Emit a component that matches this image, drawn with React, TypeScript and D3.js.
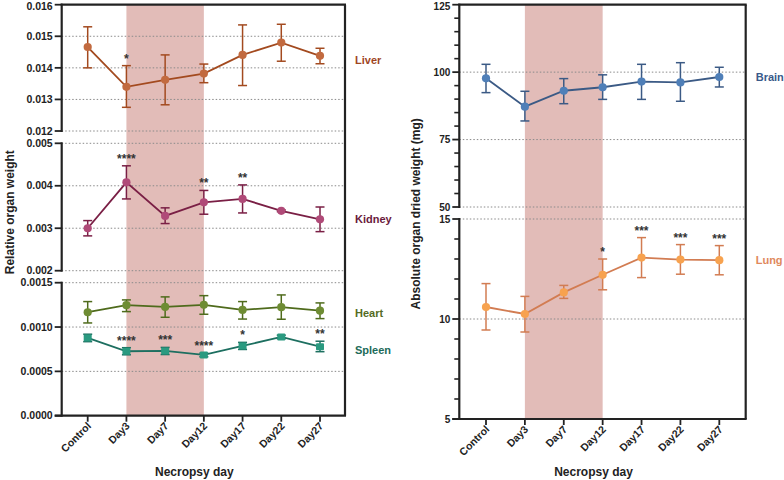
import React from "react";
import * as d3 from "d3";

const categories = ["Control", "Day3", "Day7", "Day12", "Day17", "Day22", "Day27"];

// Left panel: relative organ weight
const liverMean = [0.01466, 0.0134, 0.01362, 0.01382, 0.01441, 0.0148, 0.01438];
const liverLow = [0.014, 0.01275, 0.01283, 0.01353, 0.01344, 0.01421, 0.01413];
const liverHigh = [0.0153, 0.01407, 0.01441, 0.01412, 0.01536, 0.01538, 0.01462];
const liverStars = ["", "*", "", "", "", "", ""];

const kidneyMean = [0.003, 0.00408, 0.00329, 0.00361, 0.00369, 0.00341, 0.00321];
const kidneyLow = [0.00282, 0.00369, 0.00311, 0.00333, 0.00336, 0.00339, 0.00292];
const kidneyHigh = [0.00318, 0.00447, 0.00348, 0.00389, 0.00402, 0.00343, 0.0035];
const kidneyStars = ["", "****", "", "**", "**", "", ""];

const heartMean = [0.001167, 0.001246, 0.001227, 0.00125, 0.001193, 0.001224, 0.001185];
const heartLow = [0.001046, 0.001174, 0.00111, 0.001144, 0.00109, 0.001088, 0.001095];
const heartHigh = [0.001287, 0.001306, 0.00134, 0.001354, 0.001287, 0.001362, 0.001272];

const spleenMean = [0.000877, 0.000727, 0.00073, 0.000685, 0.000787, 0.000888, 0.000779];
const spleenLow = [0.000835, 0.000687, 0.00069, 0.000665, 0.000747, 0.000868, 0.000722];
const spleenHigh = [0.000919, 0.000767, 0.00077, 0.000705, 0.000827, 0.000908, 0.00084];
const spleenStars = ["", "****", "***", "****", "*", "", "**"];

const liverTicks = [0.012, 0.013, 0.014, 0.015, 0.016];
const kidneyTicks = [0.002, 0.003, 0.004, 0.005];
const hsTicks = [0, 0.0005, 0.001, 0.0015];

// Right panel: absolute organ dried weight (mg)
const brainMean = [97.7, 87.2, 93.1, 94.4, 96.5, 96.2, 98.2];
const brainLow = [92.4, 81.9, 88.3, 89.9, 89.9, 89.2, 94.5];
const brainHigh = [102.9, 92.9, 97.6, 99.0, 102.9, 103.5, 101.8];
const brainStars = ["", "", "", "", "", "", ""];

const lungMean = [10.6, 10.25, 11.33, 12.21, 13.07, 12.97, 12.94];
const lungLow = [9.45, 9.35, 11.03, 11.46, 12.07, 12.24, 12.21];
const lungHigh = [11.77, 11.13, 11.68, 13.0, 14.07, 13.72, 13.67];
const lungStars = ["", "", "", "*", "***", "***", "***"];

const brainTicks = [50, 75, 100, 125];
const lungTicks = [5, 10, 15];

const FONT = "'Liberation Sans', Arial, Helvetica, sans-serif";
const AXIS = "#222";
const GRID = "#8a8a8a";
const SHADE = "#e2bcb8";

type Series = {
  name: string;
  mean: number[];
  low: number[];
  high: number[];
  stars?: string[];
  y: d3.ScaleLinear<number, number>;
  line: string;
  marker: string;
  label: string;
  labelDy: number;
  square?: boolean;
};

function SeriesMarks({ s, x }: { s: Series; x: d3.ScalePoint<string> }) {
  const pts = categories.map((c, i) => [x(c) as number, s.y(s.mean[i])] as [number, number]);
  const path = d3.line()(pts) || "";
  const cap = 4.5;
  return (
    <g>
      <path d={path} fill="none" stroke={s.line} strokeWidth={1.8} />
      {categories.map((c, i) => {
        const cx = x(c) as number;
        const yl = s.y(s.low[i]);
        const yh = s.y(s.high[i]);
        return (
          <g key={c} stroke={s.line} strokeWidth={1.5}>
            <line x1={cx} x2={cx} y1={yl} y2={yh} />
            <line x1={cx - cap} x2={cx + cap} y1={yl} y2={yl} />
            <line x1={cx - cap} x2={cx + cap} y1={yh} y2={yh} />
          </g>
        );
      })}
      {categories.map((c, i) => {
        const cx = x(c) as number;
        const cy = s.y(s.mean[i]);
        return s.square ? (
          <rect key={c} x={cx - 4} y={cy - 3.5} width={8} height={7} rx={1} fill={s.marker} />
        ) : (
          <circle key={c} cx={cx} cy={cy} r={4.1} fill={s.marker} />
        );
      })}
      {s.stars &&
        categories.map((c, i) =>
          s.stars![i] ? (
            <text
              key={c}
              x={x(c) as number}
              y={s.y(s.high[i]) - 3}
              textAnchor="middle"
              fontSize={12}
              fontWeight="bold"
              fill="#333"
              fontFamily={FONT}
            >
              {s.stars![i]}
            </text>
          ) : null
        )}
    </g>
  );
}

type Segment = {
  y: d3.ScaleLinear<number, number>;
  ticks: number[];
  fmt: (v: number) => string;
  grid: number[];
  minor?: number[];
};

function Panel({
  x0,
  x1,
  top,
  bottom,
  x,
  segments,
  series,
  shadeFrom,
  shadeTo,
  title,
  titleOffset,
  tickFont,
}: {
  x0: number;
  x1: number;
  top: number;
  bottom: number;
  x: d3.ScalePoint<string>;
  segments: Segment[];
  series: Series[];
  shadeFrom: string;
  shadeTo: string;
  title: string;
  titleOffset: number;
  tickFont: number;
}) {
  const cx = (x0 + x1) / 2;
  const titleY = (top + bottom) / 2 + 2;
  return (
    <g>
      <rect
        x={x(shadeFrom) as number}
        y={top}
        width={(x(shadeTo) as number) - (x(shadeFrom) as number)}
        height={bottom - top}
        fill={SHADE}
      />
      {segments.map((seg, si) =>
        seg.grid.map((g) => (
          <line
            key={`g${si}-${g}`}
            x1={x0}
            x2={x1}
            y1={seg.y(g)}
            y2={seg.y(g)}
            stroke={GRID}
            strokeWidth={1}
            strokeDasharray="1.5,2"
          />
        ))
      )}
      {segments.map((seg, si) => {
        const [ya, yb] = seg.y.range();
        return (
          <g key={`a${si}`}>
            <line x1={x0} x2={x0} y1={ya + 1} y2={yb - 1} stroke={AXIS} strokeWidth={2.2} />
            {seg.minor &&
              seg.minor.map((m) => (
                <line key={`m${m}`} x1={x0 - 5} x2={x0} y1={seg.y(m)} y2={seg.y(m)} stroke={AXIS} strokeWidth={1.6} />
              ))}
            {seg.ticks.map((t) => (
              <g key={`t${t}`}>
                <line x1={x0 - 7} x2={x0} y1={seg.y(t)} y2={seg.y(t)} stroke={AXIS} strokeWidth={1.8} />
                <text
                  x={x0 - 9}
                  y={Math.max(seg.y(t), 6)}
                  dy="0.35em"
                  textAnchor="end"
                  fontSize={tickFont}
                  fontWeight="bold"
                  fill="#222"
                  fontFamily={FONT}
                >
                  {seg.fmt(t)}
                </text>
              </g>
            ))}
          </g>
        );
      })}
      <line x1={x0 - 1} x2={x1 + 1} y1={top} y2={top} stroke={AXIS} strokeWidth={2.2} />
      <line x1={x1} x2={x1} y1={top} y2={bottom} stroke={AXIS} strokeWidth={2.2} />
      <line x1={x0 - 7} x2={x1 + 1} y1={bottom} y2={bottom} stroke={AXIS} strokeWidth={2.2} />
      {categories.map((c) => {
        const px = x(c) as number;
        return (
          <g key={c}>
            <line x1={px} x2={px} y1={bottom} y2={bottom + 6} stroke={AXIS} strokeWidth={1.8} />
            <text
              transform={`translate(${px + 4},${bottom + 11}) rotate(-45)`}
              textAnchor="end"
              fontSize={10.5}
              fontWeight="bold"
              fill="#222"
              fontFamily={FONT}
            >
              {c}
            </text>
          </g>
        );
      })}
      {series.map((s) => (
        <g key={s.name}>
          <SeriesMarks s={s} x={x} />
          <text
            x={x1 + 10}
            y={s.y(s.mean[s.mean.length - 1]) + s.labelDy}
            dy="0.35em"
            fontSize={11}
            fontWeight="bold"
            fill={s.label}
            fontFamily={FONT}
          >
            {s.name}
          </text>
        </g>
      ))}
      <text
        x={cx - 9}
        y={476}
        textAnchor="middle"
        fontSize={12}
        fontWeight="bold"
        fill="#222"
        fontFamily={FONT}
      >
        Necropsy day
      </text>
      <text
        transform={`translate(${x0 - titleOffset},${titleY}) rotate(-90)`}
        textAnchor="middle"
        fontSize={12}
        fontWeight="bold"
        fill="#222"
        fontFamily={FONT}
      >
        {title}
      </text>
    </g>
  );
}

export default function App() {
  const lx0 = 61.7;
  const lx1 = 345;
  const xL = d3.scalePoint<string>().domain(categories).range([87.7, 320]);
  const yLiver = d3.scaleLinear().domain([0.012, 0.016]).range([131, 4.7]);
  const yKidney = d3.scaleLinear().domain([0.002, 0.005]).range([270.7, 143.3]);
  const yHS = d3.scaleLinear().domain([0, 0.0015]).range([415.7, 282.7]);

  const f3 = d3.format(".3f");
  const f4 = d3.format(".4f");

  const leftSegments: Segment[] = [
    { y: yLiver, ticks: liverTicks, fmt: f3, grid: liverTicks.slice(0, 4) },
    { y: yKidney, ticks: kidneyTicks, fmt: f3, grid: kidneyTicks },
    { y: yHS, ticks: hsTicks, fmt: f4, grid: hsTicks.slice(1) },
  ];

  const leftSeries: Series[] = [
    { name: "Liver", mean: liverMean, low: liverLow, high: liverHigh, stars: liverStars, y: yLiver, line: "#a34a1f", marker: "#c26a3f", label: "#a0461f", labelDy: 4 },
    { name: "Kidney", mean: kidneyMean, low: kidneyLow, high: kidneyHigh, stars: kidneyStars, y: yKidney, line: "#7a1f45", marker: "#b04a78", label: "#6a1a3c", labelDy: 0 },
    { name: "Heart", mean: heartMean, low: heartLow, high: heartHigh, y: yHS, line: "#4f6b1c", marker: "#6e8c33", label: "#556b23", labelDy: 2.5 },
    { name: "Spleen", mean: spleenMean, low: spleenLow, high: spleenHigh, stars: spleenStars, y: yHS, line: "#1d6f60", marker: "#2a9a80", label: "#1d6b5a", labelDy: 4, square: true },
  ];

  const rx0 = 459.3;
  const rx1 = 745.7;
  const xR = d3.scalePoint<string>().domain(categories).range([486, 719.3]);
  const yBrain = d3.scaleLinear().domain([50, 125]).range([207, 4.7]);
  const yLung = d3.scaleLinear().domain([5, 15]).range([419, 219]);

  const brainMinor = d3.range(50, 126, 5).filter((v) => !brainTicks.includes(v));
  const lungMinor = d3.range(5, 15.5, 1).filter((v) => !lungTicks.includes(v));
  const f0 = d3.format("d");

  const rightSegments: Segment[] = [
    { y: yBrain, ticks: brainTicks, fmt: f0, grid: [50, 75, 100], minor: brainMinor },
    { y: yLung, ticks: lungTicks, fmt: f0, grid: [10, 15], minor: lungMinor },
  ];

  const rightSeries: Series[] = [
    { name: "Brain", mean: brainMean, low: brainLow, high: brainHigh, stars: brainStars, y: yBrain, line: "#3b5a85", marker: "#4f7fb8", label: "#3a5a8a", labelDy: 0 },
    { name: "Lung", mean: lungMean, low: lungLow, high: lungHigh, stars: lungStars, y: yLung, line: "#d27c52", marker: "#f7a24f", label: "#e0895c", labelDy: 0 },
  ];

  return (
    <svg
      width={784}
      height={480}
      viewBox="0 0 784 480"
      style={{ position: "absolute", left: 0, top: 0, background: "#fff" }}
    >
      <rect width={784} height={480} fill="#fff" />
      <Panel
        x0={lx0}
        x1={lx1}
        top={4.7}
        bottom={415.7}
        x={xL}
        segments={leftSegments}
        series={leftSeries}
        shadeFrom="Day3"
        shadeTo="Day12"
        title="Relative organ weight"
        titleOffset={48}
        tickFont={10.5}
      />
      <Panel
        x0={rx0}
        x1={rx1}
        top={4.7}
        bottom={419}
        x={xR}
        segments={rightSegments}
        series={rightSeries}
        shadeFrom="Day3"
        shadeTo="Day12"
        title="Absolute organ dried weight (mg)"
        titleOffset={39}
        tickFont={10}
      />
    </svg>
  );
}
